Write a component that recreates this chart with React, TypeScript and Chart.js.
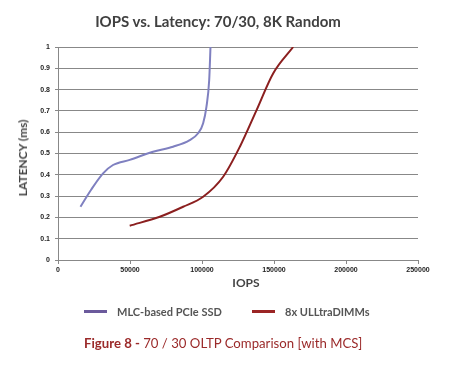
import React, { useEffect, useRef } from "react";
import { Chart, registerables } from "chart.js";

Chart.register(...registerables);

const titleText = "IOPS vs. Latency: 70/30, 8K Random";
const xTitle = "IOPS";
const yTitle = "LATENCY (ms)";
const seriesNames = ["MLC-based PCIe SSD", "8x ULLtraDIMMs"];

const mlcIops = [15600, 23000, 31300, 38200, 49800, 66000, 79900, 91500, 97300, 100800, 103100, 105000, 105900];
const mlcLatency = [0.25, 0.33, 0.407, 0.446, 0.47, 0.508, 0.532, 0.563, 0.595, 0.642, 0.72, 0.845, 1.0];

const ullIops = [49800, 70700, 86900, 100800, 114700, 126300, 137900, 149400, 163300];
const ullLatency = [0.161, 0.203, 0.25, 0.297, 0.391, 0.532, 0.704, 0.876, 1.0];

const xTicks = [0, 50000, 100000, 150000, 200000, 250000];
const yTicks = [0, 0.1, 0.2, 0.3, 0.4, 0.5, 0.6, 0.7, 0.8, 0.9, 1];

const lineColors = ["#7f80c0", "#8b1f1f"];
const legendColors = ["#6b5a9c", "#9b2525"];

export default function App() {
  const ref = useRef<HTMLCanvasElement>(null);

  useEffect(() => {
    if (!ref.current) return;
    const toPts = (xs: number[], ys: number[]) => xs.map((x, i) => ({ x, y: ys[i] }));
    const chart = new Chart(ref.current, {
      type: "scatter",
      data: {
        datasets: [
          {
            label: seriesNames[0],
            data: toPts(mlcIops, mlcLatency),
            showLine: true,
            borderColor: lineColors[0],
            backgroundColor: lineColors[0],
            borderWidth: 2,
            pointRadius: 0,
            cubicInterpolationMode: "monotone",
          },
          {
            label: seriesNames[1],
            data: toPts(ullIops, ullLatency),
            showLine: true,
            borderColor: lineColors[1],
            backgroundColor: lineColors[1],
            borderWidth: 2,
            pointRadius: 0,
            cubicInterpolationMode: "monotone",
          },
        ],
      },
      options: {
        animation: false,
        responsive: false,
        maintainAspectRatio: false,
        layout: { padding: { left: 0, right: 36, top: 47, bottom: 0 } },
        plugins: {
          legend: { display: false },
          tooltip: { enabled: false },
          title: { display: false },
        },
        scales: {
          x: {
            type: "linear",
            min: 0,
            max: 250000,
            afterBuildTicks: (s: any) => {
              s.ticks = xTicks.map((v) => ({ value: v }));
            },
            afterFit: (s: any) => {
              s.height = 40;
            },
            grid: {
              drawOnChartArea: false,
              drawTicks: true,
              tickLength: 4,
              color: "#888888",
            },
            border: { color: "#888888", width: 1 },
            ticks: {
              padding: 2,
              maxRotation: 0,
              autoSkip: false,
              color: "#222222",
              font: { family: "Liberation Sans", size: 7, weight: "bold" },
              callback: (v: any) => String(v),
            },
          },
          y: {
            type: "linear",
            min: 0,
            max: 1,
            afterBuildTicks: (s: any) => {
              s.ticks = yTicks.map((v) => ({ value: v }));
            },
            afterFit: (s: any) => {
              s.width = 58;
            },
            grid: {
              color: "#888888",
              lineWidth: 1,
              tickLength: 3,
            },
            border: { color: "#888888", width: 1 },
            ticks: {
              padding: 5,
              autoSkip: false,
              color: "#222222",
              font: { family: "Liberation Sans", size: 7, weight: "bold" },
              callback: (v: any) => String(v),
            },
          },
        },
      },
    });
    return () => chart.destroy();
  }, []);

  const sans = "Lato, 'Open Sans', sans-serif";

  return (
    <div style={{ position: "absolute", left: 0, top: 0, width: 454, height: 380, background: "#ffffff", fontFamily: sans }}>
      <canvas ref={ref} width={454} height={300} style={{ position: "absolute", left: 0, top: 0, width: 454, height: 300 }} />
      <div style={{ position: "absolute", left: 218, top: 21, width: 0, height: 0 }}>
        <div style={{ position: "absolute", transform: "translate(-50%, -50%)", whiteSpace: "nowrap", fontWeight: 700, fontSize: 15, color: "#404040", lineHeight: "20px" }}>
          {titleText}
        </div>
      </div>
      <div style={{ position: "absolute", left: 23, top: 158, width: 0, height: 0 }}>
        <div style={{ position: "absolute", transform: "translate(-50%, -50%) rotate(-90deg)", whiteSpace: "nowrap", fontSize: 12, fontWeight: 700, color: "#444444", lineHeight: "14px" }}>
          {yTitle}
        </div>
      </div>
      <div style={{ position: "absolute", left: 246, top: 283, width: 0, height: 0 }}>
        <div style={{ position: "absolute", transform: "translate(-50%, -50%)", whiteSpace: "nowrap", fontSize: 12, fontWeight: 700, color: "#444444", lineHeight: "14px" }}>
          {xTitle}
        </div>
      </div>
      {[0, 1].map((i) => (
        <div key={i} style={{ position: "absolute", left: i === 0 ? 84 : 252, top: 303, height: 16, display: "flex", alignItems: "center", whiteSpace: "nowrap" }}>
          <div style={{ width: 23, height: 3, background: legendColors[i], marginRight: 10 }} />
          <span style={{ fontSize: 11, fontWeight: 700, color: "#555555" }}>{seriesNames[i]}</span>
        </div>
      ))}
      <div style={{ position: "absolute", left: 84, top: 334, whiteSpace: "nowrap", fontSize: 13.2, color: "#9b2a2a", lineHeight: "18px" }}>
        <span style={{ fontWeight: 700 }}>Figure 8 - </span>70 / 30 OLTP Comparison [with MCS]
      </div>
    </div>
  );
}
